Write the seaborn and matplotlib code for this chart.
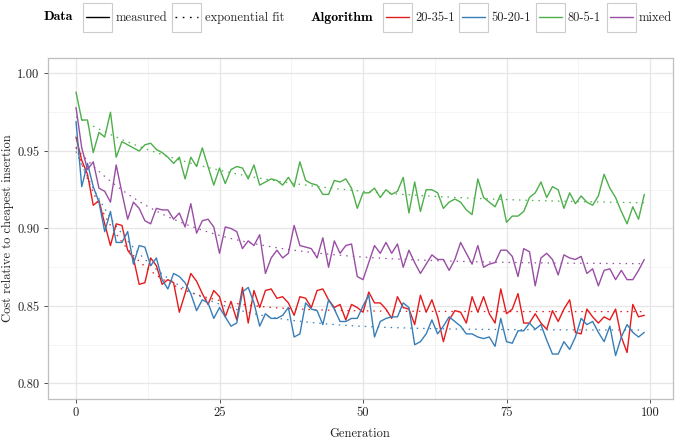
import numpy as np
import pandas as pd
import matplotlib
matplotlib.use("Agg")
import matplotlib.pyplot as plt
import seaborn as sns
from matplotlib.lines import Line2D
from matplotlib.patches import Rectangle

# ---------------- data ----------------
generations = list(range(100))
algorithms = ["20-35-1", "50-20-1", "80-5-1", "mixed"]

cost_20_35_1 = [0.959, 0.944, 0.935, 0.915, 0.918, 0.903, 0.889, 0.903, 0.902, 0.886,
                0.881, 0.864, 0.865, 0.881, 0.876, 0.864, 0.867, 0.865, 0.846, 0.858,
                0.871, 0.866, 0.858, 0.851, 0.860, 0.856, 0.843, 0.853, 0.841, 0.862,
                0.839, 0.860, 0.849, 0.860, 0.861, 0.855, 0.856, 0.852, 0.844, 0.856,
                0.855, 0.849, 0.860, 0.861, 0.854, 0.849, 0.851, 0.841, 0.851, 0.849,
                0.846, 0.859, 0.852, 0.852, 0.848, 0.842, 0.856, 0.849, 0.848, 0.838,
                0.857, 0.846, 0.854, 0.843, 0.827, 0.841, 0.847, 0.846, 0.839, 0.856,
                0.846, 0.856, 0.845, 0.839, 0.861, 0.845, 0.848, 0.858, 0.839, 0.839,
                0.845, 0.839, 0.835, 0.847, 0.840, 0.848, 0.854, 0.833, 0.832, 0.848,
                0.843, 0.839, 0.843, 0.841, 0.848, 0.830, 0.820, 0.851, 0.843, 0.844]

cost_50_20_1 = [0.969, 0.927, 0.942, 0.927, 0.917, 0.898, 0.911, 0.891, 0.891, 0.898,
                0.877, 0.889, 0.888, 0.876, 0.881, 0.867, 0.861, 0.871, 0.869, 0.865,
                0.858, 0.847, 0.854, 0.852, 0.842, 0.849, 0.843, 0.837, 0.839, 0.859,
                0.862, 0.852, 0.837, 0.845, 0.842, 0.842, 0.844, 0.849, 0.830, 0.832,
                0.852, 0.848, 0.847, 0.838, 0.854, 0.848, 0.840, 0.840, 0.842, 0.842,
                0.850, 0.857, 0.830, 0.840, 0.842, 0.843, 0.843, 0.852, 0.849, 0.825,
                0.827, 0.832, 0.841, 0.832, 0.837, 0.843, 0.840, 0.837, 0.832, 0.832,
                0.830, 0.829, 0.830, 0.824, 0.842, 0.827, 0.826, 0.834, 0.834, 0.839,
                0.835, 0.838, 0.828, 0.819, 0.819, 0.827, 0.822, 0.830, 0.842, 0.838,
                0.840, 0.833, 0.827, 0.837, 0.818, 0.830, 0.838, 0.833, 0.830, 0.833]

cost_80_5_1 = [0.988, 0.970, 0.970, 0.949, 0.962, 0.959, 0.975, 0.946, 0.956, 0.954,
               0.952, 0.950, 0.954, 0.955, 0.951, 0.949, 0.946, 0.942, 0.946, 0.932,
               0.946, 0.940, 0.952, 0.940, 0.928, 0.939, 0.929, 0.938, 0.940, 0.939,
               0.932, 0.941, 0.928, 0.930, 0.932, 0.931, 0.928, 0.933, 0.927, 0.943,
               0.931, 0.929, 0.928, 0.922, 0.922, 0.931, 0.930, 0.932, 0.926, 0.913,
               0.923, 0.923, 0.926, 0.920, 0.925, 0.922, 0.924, 0.933, 0.910, 0.930,
               0.911, 0.925, 0.925, 0.923, 0.913, 0.917, 0.919, 0.917, 0.912, 0.909,
               0.932, 0.920, 0.917, 0.914, 0.922, 0.904, 0.908, 0.908, 0.911, 0.920,
               0.923, 0.930, 0.920, 0.927, 0.925, 0.913, 0.923, 0.916, 0.921, 0.917,
               0.915, 0.921, 0.935, 0.926, 0.920, 0.911, 0.903, 0.914, 0.906, 0.922]

cost_mixed = [0.978, 0.952, 0.938, 0.943, 0.926, 0.924, 0.917, 0.941, 0.923, 0.906,
              0.917, 0.913, 0.905, 0.903, 0.913, 0.912, 0.912, 0.906, 0.910, 0.901,
              0.916, 0.897, 0.905, 0.906, 0.901, 0.884, 0.901, 0.900, 0.898, 0.887,
              0.892, 0.889, 0.896, 0.871, 0.881, 0.886, 0.881, 0.884, 0.902, 0.889,
              0.888, 0.887, 0.881, 0.894, 0.875, 0.892, 0.884, 0.889, 0.890, 0.869,
              0.867, 0.878, 0.889, 0.884, 0.891, 0.884, 0.890, 0.875, 0.886, 0.878,
              0.871, 0.877, 0.883, 0.880, 0.880, 0.873, 0.880, 0.891, 0.884, 0.877,
              0.889, 0.875, 0.877, 0.878, 0.886, 0.886, 0.882, 0.869, 0.887, 0.885,
              0.863, 0.881, 0.884, 0.880, 0.870, 0.883, 0.881, 0.880, 0.882, 0.871,
              0.874, 0.863, 0.873, 0.874, 0.867, 0.873, 0.867, 0.867, 0.873, 0.880]

y_ticks = [0.80, 0.85, 0.90, 0.95, 1.00]
y_tick_labels = ["0.80", "0.85", "0.90", "0.95", "1.00"]
x_ticks = [0, 25, 50, 75, 100]
x_tick_labels = ["0", "25", "50", "75", "100"]

colors = {"20-35-1": "#E41A1C", "50-20-1": "#377EB8",
          "80-5-1": "#4DAF4A", "mixed": "#984EA3"}

series = {"20-35-1": cost_20_35_1, "50-20-1": cost_50_20_1,
          "80-5-1": cost_80_5_1, "mixed": cost_mixed}

# long table of measurements
rows = []
for alg in algorithms:
    for g, v in zip(generations, series[alg]):
        rows.append((g, v, alg))
df = pd.DataFrame(rows, columns=["Generation", "Cost", "Algorithm"])


# exponential fit y = a + b*exp(-c*x), computed from the measured data
def exp_fit(x, y):
    x = np.asarray(x, float)
    y = np.asarray(y, float)
    best = None
    for c in np.linspace(0.003, 1.0, 3000):
        X = np.column_stack([np.ones_like(x), np.exp(-c * x)])
        coef = np.linalg.lstsq(X, y, rcond=None)[0]
        sse = float(np.sum((X @ coef - y) ** 2))
        if best is None or sse < best[0]:
            best = (sse, c, coef)
    _, c, (a, b) = best
    return a + b * np.exp(-c * x)


fit_rows = []
for alg in algorithms:
    fitted = exp_fit(generations, series[alg])
    for g, v in zip(generations, fitted):
        fit_rows.append((g, v, alg))
fit_df = pd.DataFrame(fit_rows, columns=["Generation", "Cost", "Algorithm"])

# ---------------- style ----------------
sns.set_theme(style="white")
plt.rcParams["font.family"] = ["cmr10", "DejaVu Serif"]
plt.rcParams["axes.formatter.use_mathtext"] = True

W, H = 675, 440
fig = plt.figure(figsize=(W / 100, H / 100), dpi=100)
fig.patch.set_facecolor("white")


def fx(px):
    return px / W


def fy(py):
    return 1 - py / H


left_px, right_px, top_px, bottom_px = 47.6, 672.7, 58.0, 399.0
ax = fig.add_axes([fx(left_px), fy(bottom_px),
                   (right_px - left_px) / W, (bottom_px - top_px) / H])
ax.set_facecolor("white")

# grid
grid_col = "#E6E6E6"
for v in [0.825, 0.875, 0.925, 0.975]:
    ax.axhline(v, color="#F0F0F0", lw=0.5, zorder=0)
for v in [12.5, 37.5, 62.5, 87.5]:
    ax.axvline(v, color="#F0F0F0", lw=0.5, zorder=0)
for v in y_ticks:
    ax.axhline(v, color=grid_col, lw=0.9, zorder=0)
for v in x_ticks:
    ax.axvline(v, color=grid_col, lw=0.9, zorder=0)

sns.lineplot(data=df, x="Generation", y="Cost", hue="Algorithm",
             hue_order=algorithms, palette=colors, lw=1.0,
             legend=False, ax=ax, zorder=3)
sns.lineplot(data=fit_df, x="Generation", y="Cost", hue="Algorithm",
             hue_order=algorithms, palette=colors, lw=0.9,
             linestyle=(0, (1.2, 4.0)), legend=False, ax=ax, zorder=2)

ax.set_xlim(-4.95, 103.95)
ax.set_ylim(0.79, 1.01)
ax.set_xticks(x_ticks)
ax.set_xticklabels(x_tick_labels)
ax.set_yticks(y_ticks)
ax.set_yticklabels(y_tick_labels)
ax.tick_params(axis="both", which="major", length=3, width=0.6,
               color="#333333", labelsize=9, labelcolor="#222222", pad=3,
               direction="out", bottom=True, left=True)
for s in ax.spines.values():
    s.set_color("#BFBFBF")
    s.set_linewidth(0.9)

ax.set_xlabel("")
ax.set_ylabel("")
fig.text(fx((left_px + right_px) / 2), fy(434), "Generation", ha="center",
         va="center", fontsize=9, color="#222222")
fig.text(fx(8), fy((top_px + bottom_px) / 2), "Cost relative to cheapest insertion",
         rotation=90, ha="center", va="center", fontsize=9, color="#222222")

# ---------------- legend ----------------
key_w, key_h = 29, 29
key_cy = 17.5


def key_box(x0, color, ls):
    fig.add_artist(Rectangle((fx(x0), fy(key_cy + key_h / 2)), key_w / W, key_h / H,
                             transform=fig.transFigure, facecolor="white",
                             edgecolor="#CCCCCC", lw=0.8))
    fig.add_artist(Line2D([fx(x0 + 3), fx(x0 + key_w - 3)], [fy(key_cy), fy(key_cy)],
                          transform=fig.transFigure, color=color, lw=1.0, ls=ls))


fig.text(fx(44), fy(key_cy), "Data", ha="left", va="center", fontsize=10,
         family=["cmb10", "DejaVu Serif"], color="black")
key_box(83, "black", "-")
fig.text(fx(116), fy(key_cy), "measured", ha="left", va="center", fontsize=9)
key_box(172, "black", (0, (1.2, 4.0)))
fig.text(fx(205), fy(key_cy), "exponential fit", ha="left", va="center", fontsize=9)

fig.text(fx(311), fy(key_cy), "Algorithm", ha="left", va="center", fontsize=10,
         family=["cmb10", "DejaVu Serif"], color="black")
key_x = [383, 459, 536, 607]
for alg, kx in zip(algorithms, key_x):
    key_box(kx, colors[alg], "-")
    fig.text(fx(kx + key_w + 3), fy(key_cy), alg, ha="left", va="center", fontsize=9)

fig.savefig("out.png", dpi=100, facecolor="white")
